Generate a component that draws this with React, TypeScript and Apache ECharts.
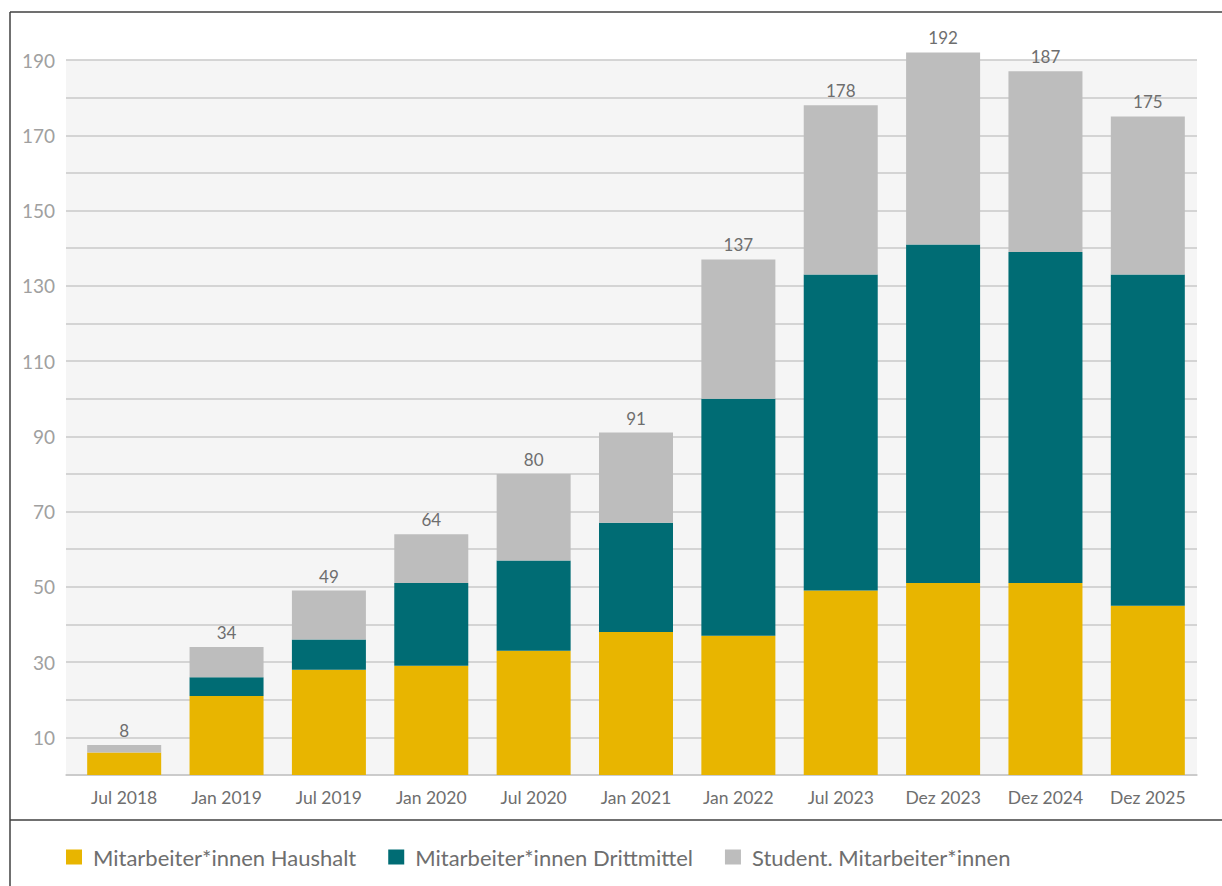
import React, { useEffect, useRef } from "react";
import * as echarts from "echarts";

const categories = ["Jul 2018", "Jan 2019", "Jul 2019", "Jan 2020", "Jul 2020", "Jan 2021", "Jan 2022", "Jul 2023", "Dez 2023", "Dez 2024", "Dez 2025"];
const haushalt = [6, 21, 28, 29, 33, 38, 37, 49, 51, 51, 45];
const drittmittel = [0, 5, 8, 22, 24, 29, 63, 84, 90, 88, 88];
const studentisch = [2, 8, 13, 13, 23, 24, 37, 45, 51, 48, 42];
const seriesNames = ["Mitarbeiter*innen Haushalt", "Mitarbeiter*innen Drittmittel", "Student. Mitarbeiter*innen"];
const yTicks = { min: 0, max: 190, interval: 10 };

const totals = categories.map((_, i) => haushalt[i] + drittmittel[i] + studentisch[i]);

const FONT = "Lato";

export default function App() {
  const ref = useRef<HTMLDivElement>(null);
  useEffect(() => {
    if (!ref.current) return;
    const chart = echarts.init(ref.current, undefined, { renderer: "svg" });
    const frame = "#404040";
    const gridColor = "#C8C8C8";
    chart.setOption({
      animation: false,
      textStyle: { fontFamily: FONT },
      color: ["#E8B500", "#006C74", "#BDBDBD"],
      grid: [
        {
          left: 66,
          right: 25,
          top: 60,
          bottom: 111,
          show: true,
          backgroundColor: "#F5F5F5",
          borderWidth: 0,
        },
        { left: 73, right: 23, top: 60, bottom: 111 },
      ],
      legend: {
        left: 66,
        top: 846,
        padding: 0,
        itemWidth: 16,
        itemHeight: 15,
        itemGap: 32,
        icon: "rect",
        textStyle: { color: "#6E6E6E", fontSize: 22, fontFamily: FONT, padding: [0, 0, 0, 6] },
        data: seriesNames,
      },
      xAxis: [
        {
          type: "value",
          gridIndex: 0,
          min: 0,
          max: 1,
          axisLabel: { show: false },
          axisTick: { show: false },
          splitLine: { show: false },
          axisLine: { show: true, lineStyle: { color: gridColor, width: 1.5 } },
        },
        {
          type: "category",
          gridIndex: 1,
          data: categories,
          axisTick: { show: false },
          axisLine: { show: false },
          axisLabel: { color: "#6E6E6E", fontSize: 17.5, margin: 13, fontFamily: FONT },
        },
      ],
      yAxis: [
        {
          type: "value",
          gridIndex: 0,
          min: yTicks.min,
          max: yTicks.max,
          interval: yTicks.interval,
          axisLine: { show: false },
          axisTick: { show: false },
          splitLine: { lineStyle: { color: gridColor, width: 1.5 } },
          axisLabel: {
            color: "#A0A0A0",
            fontSize: 19,
            margin: 11,
            fontFamily: FONT,
            formatter: (v: number) => (v % 20 === 10 ? String(v) : ""),
          },
        },
        {
          type: "value",
          gridIndex: 1,
          min: yTicks.min,
          max: yTicks.max,
          interval: yTicks.interval,
          show: false,
          splitLine: { show: false },
        },
      ],
      series: [
        { name: seriesNames[0], type: "bar", xAxisIndex: 1, yAxisIndex: 1, stack: "total", barWidth: 74, clip: false, data: haushalt },
        { name: seriesNames[1], type: "bar", xAxisIndex: 1, yAxisIndex: 1, stack: "total", barWidth: 74, clip: false, data: drittmittel },
        {
          name: seriesNames[2],
          type: "bar",
          xAxisIndex: 1,
          yAxisIndex: 1,
          stack: "total",
          barWidth: 74,
          clip: false,
          data: studentisch,
          label: {
            show: true,
            position: "top",
            distance: 6,
            color: "#6E6E6E",
            fontSize: 17,
            fontFamily: FONT,
            formatter: (p: any) => String(totals[p.dataIndex]),
          },
        },
      ],
      graphic: [
        { type: "line", shape: { x1: 10, y1: 12, x2: 1222, y2: 12 }, style: { stroke: frame, lineWidth: 1.5 } },
        { type: "line", shape: { x1: 10, y1: 12, x2: 10, y2: 886 }, style: { stroke: frame, lineWidth: 1.5 } },
        { type: "line", shape: { x1: 10, y1: 820, x2: 1222, y2: 820 }, style: { stroke: frame, lineWidth: 1.5 } },
      ],
    });
    return () => chart.dispose();
  }, []);
  return <div ref={ref} style={{ position: "fixed", left: 0, top: 0, width: 1222, height: 886, background: "#fff" }} />;
}
